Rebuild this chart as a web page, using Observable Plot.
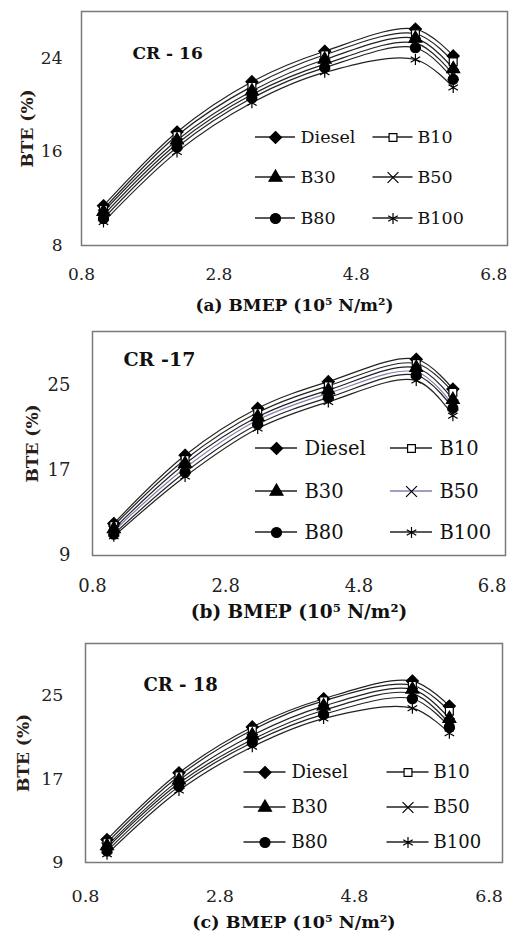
<!DOCTYPE html>
<html>
<head>
<meta charset="utf-8">
<script src="https://cdn.jsdelivr.net/npm/d3@7"></script>
<script src="https://cdn.jsdelivr.net/npm/@observablehq/plot@0.6"></script>
<style>
  html, body { margin: 0; padding: 0; background: #fff; }
  #wrap { position: relative; width: 512px; height: 932px; overflow: hidden; background: #fff; }
  .panel { position: absolute; left: 0; }
  .panel svg { overflow: visible; }
</style>
</head>
<body>
<div id="wrap"></div>
<script>
// ---------- data ----------
const bmep = [1.12, 2.19, 3.28, 4.34, 5.66, 6.21];
const fuels = ["Diesel", "B10", "B30", "B50", "B80", "B100"];
const xTicks = [0.8, 2.8, 4.8, 6.8];

// rows in the order of fuels, columns in the order of bmep
const bteCR16 = [
  [11.4, 17.7, 22.0, 24.6, 26.5, 24.2],
  [11.1, 17.4, 21.6, 24.3, 26.1, 23.7],
  [10.9, 17.0, 21.2, 23.9, 25.7, 23.1],
  [10.6, 16.7, 20.9, 23.5, 25.3, 22.6],
  [10.3, 16.4, 20.6, 23.2, 24.9, 22.2],
  [10.0, 16.0, 20.2, 22.8, 23.9, 21.5]
];
const bteCR17 = [
  [12.0, 18.4, 22.8, 25.3, 27.4, 24.6],
  [11.8, 18.0, 22.4, 24.9, 27.0, 24.3],
  [11.5, 17.6, 22.0, 24.5, 26.6, 23.6],
  [11.3, 17.2, 21.7, 24.2, 26.2, 23.1],
  [11.0, 16.8, 21.3, 23.8, 25.9, 22.8],
  [10.8, 16.4, 20.9, 23.4, 25.4, 22.1]
];
const bteCR18 = [
  [11.2, 17.6, 22.0, 24.7, 26.4, 24.0],
  [10.9, 17.3, 21.7, 24.5, 26.0, 23.5],
  [10.6, 16.9, 21.2, 24.0, 25.6, 22.8],
  [10.4, 16.6, 20.8, 23.6, 25.2, 22.3],
  [10.1, 16.3, 20.5, 23.2, 24.7, 22.0],
  [9.8, 15.9, 20.1, 22.8, 23.8, 21.4]
];
const yTicksCR16 = [8, 16, 24];
const yTicksCR17 = [9, 17, 25];
const yTicksCR18 = [9, 17, 25];
const crLabels = ["CR - 16", "CR -17", "CR - 18"];
const xTitles = ["(a) BMEP (10\u2075 N/m\u00B2)", "(b) BMEP (10\u2075 N/m\u00B2)", "(c) BMEP (10\u2075 N/m\u00B2)"];
const yTitle = "BTE (%)";

// ---------- styles ----------
const markerStyle = {
  Diesel: {symbol: "diamond2", fill: "#000", stroke: "#000", r: 5.4},
  B10:    {symbol: "square2", fill: "#fff", stroke: "#000", r: 5.0},
  B30:    {symbol: "triangle", fill: "#000", stroke: "#000", r: 4.8},
  B50:    {symbol: "times", fill: "none", stroke: "#000", r: 5.0},
  B80:    {symbol: "circle", fill: "#000", stroke: "#000", r: 5.0},
  B100:   {symbol: "asterisk", fill: "none", stroke: "#000", r: 5.2}
};

const panels = [
  {data: bteCR16, yTicks: yTicksCR16, yDomain: [8, 28], top: 0, height: 318,
   mt: 11, mb: 73, ml: 81, mr: 5, xPad: 22, yPad: 19, tickFs: 17,
   yTitleDx: -54, xTitleDy: 60, titleFs: 17, crDx: 51, crDy: 42, crFs: 17,
   legRows: [126, 166, 207], legCols: [{c: 194, t: 219}, {c: 311.5, t: 336}], legHalf: 20, legFs: 17.5,
   b50Color: "#222"},
  {data: bteCR17, yTicks: yTicksCR17, yDomain: [9, 30], top: 318, height: 307,
   mt: 13, mb: 70, ml: 92, mr: 7, xPad: 24, yPad: 22, tickFs: 18,
   yTitleDx: -60, xTitleDy: 57, titleFs: 18.5, crDx: 31, crDy: 28, crFs: 19,
   legRows: [117, 160, 201], legCols: [{c: 184, t: 212}, {c: 319, t: 347}], legHalf: 21, legFs: 19.5,
   b50Color: "#8a7aae"},
  {data: bteCR18, yTicks: yTicksCR18, yDomain: [9, 30], top: 625, height: 307,
   mt: 18, mb: 70, ml: 85, mr: 10, xPad: 27, yPad: 22, tickFs: 17.5,
   yTitleDx: -62, xTitleDy: 60, titleFs: 17.5, crDx: 58, crDy: 42, crFs: 18,
   legRows: [129, 164, 199], legCols: [{c: 179.5, t: 206}, {c: 322.5, t: 348}], legHalf: 21, legFs: 18,
   b50Color: "#222"}
];

const wrap = document.getElementById("wrap");

panels.forEach((p, pi) => {
  const lineColor = (f) => (f === "B50" ? p.b50Color : "#222");
  const marks = [];
  // curves
  fuels.forEach((f, i) => {
    const rows = bmep.map((x, j) => ({x, y: p.data[i][j]}));
    marks.push(Plot.line(rows, {x: "x", y: "y", curve: "catmull-rom", stroke: lineColor(f), strokeWidth: 1.2}));
  });
  // markers
  fuels.forEach((f, i) => {
    const rows = bmep.map((x, j) => ({x, y: p.data[i][j]}));
    const s = markerStyle[f];
    marks.push(Plot.dot(rows, {x: "x", y: "y", symbol: s.symbol, r: s.r, fill: s.fill, stroke: s.stroke, strokeWidth: 1.2}));
  });
  // frame
  marks.push(Plot.frame({stroke: "#7a7a7a", strokeWidth: 1.5}));
  // axes
  marks.push(Plot.axisX(xTicks, {tickSize: 0, tickPadding: p.xPad, fontSize: p.tickFs, fill: "#222", tickFormat: (d) => d.toFixed(1)}));
  marks.push(Plot.axisY(p.yTicks, {tickSize: 0, tickPadding: p.yPad, fontSize: p.tickFs, fill: "#222"}));
  // titles
  marks.push(Plot.text([yTitle], {frameAnchor: "left", textAnchor: "middle", lineAnchor: "middle", rotate: -90, dx: p.yTitleDx, fontSize: 17, fontWeight: "bold", fill: "#2b1d18"}));
  marks.push(Plot.text([xTitles[pi]], {frameAnchor: "bottom", textAnchor: "middle", lineAnchor: "middle", dy: p.xTitleDy, fontSize: p.titleFs, fontWeight: "bold", fill: "#111"}));
  marks.push(Plot.text([crLabels[pi]], {frameAnchor: "top-left", dx: p.crDx, dy: p.crDy, textAnchor: "start", lineAnchor: "middle", fontSize: p.crFs, fontWeight: "bold", fill: "#111"}));
  // legend line segments (render-function mark, positioned in frame pixels)
  marks.push((index, scales, values, dims) => {
    const g = d3.create("svg:g");
    fuels.forEach((f, i) => {
      const cy = dims.marginTop + p.legRows[Math.floor(i / 2)];
      const cx = dims.marginLeft + p.legCols[i % 2].c;
      g.append("line")
        .attr("x1", cx - p.legHalf).attr("x2", cx + p.legHalf)
        .attr("y1", cy).attr("y2", cy)
        .attr("stroke", lineColor(f)).attr("stroke-width", 1.3);
    });
    return g.node();
  });
  // legend markers and labels
  fuels.forEach((f, i) => {
    const row = Math.floor(i / 2), col = i % 2;
    const dy = p.legRows[row], cc = p.legCols[col];
    const s = markerStyle[f];
    marks.push(Plot.dot([f], {frameAnchor: "top-left", dx: cc.c, dy, symbol: s.symbol, r: s.r, fill: s.fill, stroke: s.stroke, strokeWidth: 1.2}));
    marks.push(Plot.text([f], {frameAnchor: "top-left", dx: cc.t, dy, textAnchor: "start", lineAnchor: "middle", fontSize: p.legFs, fill: "#111"}));
  });

  const chart = Plot.plot({
    width: 512,
    height: p.height,
    marginTop: p.mt, marginBottom: p.mb, marginLeft: p.ml, marginRight: p.mr,
    x: {domain: [0.8, 7.0], label: null},
    y: {domain: p.yDomain, label: null},
    style: {fontFamily: "'DejaVu Serif', serif", background: "transparent", overflow: "visible"},
    marks
  });
  const div = document.createElement("div");
  div.className = "panel";
  div.style.top = p.top + "px";
  div.appendChild(chart);
  wrap.appendChild(div);
});
</script>
</body>
</html>
